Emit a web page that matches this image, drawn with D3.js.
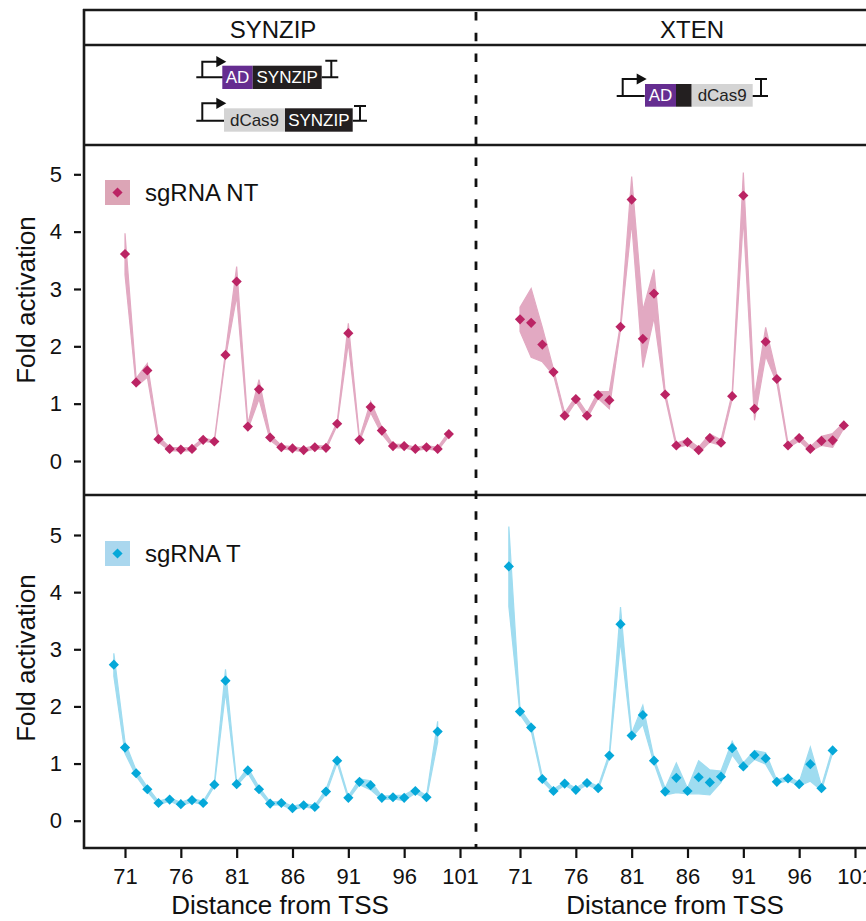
<!DOCTYPE html>
<html>
<head>
<meta charset="utf-8">
<script src="https://cdn.jsdelivr.net/npm/d3@7"></script>
<style>
  body { margin: 0; background: #fff; }
  text { font-family: "Liberation Sans", Arial, Helvetica, sans-serif; fill: #111; }
</style>
</head>
<body>
<script>
// distance from TSS for each sgRNA set
const distNT = [71, 72, 73, 74, 75, 76, 77, 78, 79, 80, 81, 82, 83, 84, 85,
    86, 87, 88, 89, 90, 91, 92, 93, 94, 95, 96, 97, 98, 99, 100];
const distT = [70, 71, 72, 73, 74, 75, 76, 77, 78, 79, 80, 81, 82, 83, 84,
    85, 86, 87, 88, 89, 90, 91, 92, 93, 94, 95, 96, 97, 98, 99];

// fold activation (mean) and spread
const synzipNT = [3.61, 1.37, 1.58, 0.38, 0.21, 0.20, 0.21, 0.37, 0.34, 1.85, 3.13, 0.60, 1.25, 0.41, 0.24,
    0.22, 0.19, 0.24, 0.23, 0.65, 2.23, 0.37, 0.94, 0.53, 0.26, 0.26, 0.21, 0.24, 0.21, 0.47];
const synzipNTerr = [0.36, 0.07, 0.12, 0.05, 0.03, 0.03, 0.03, 0.03, 0.02, 0.05, 0.26, 0.05, 0.17, 0.05, 0.03,
    0.03, 0.03, 0.03, 0.03, 0.03, 0.17, 0.03, 0.10, 0.06, 0.03, 0.03, 0.03, 0.03, 0.03, 0.04];

const xtenNT = [2.47, 2.41, 2.03, 1.55, 0.79, 1.08, 0.79, 1.15, 1.06, 2.34, 4.56, 2.13, 2.92, 1.16, 0.27,
    0.33, 0.19, 0.40, 0.32, 1.13, 4.63, 0.91, 2.08, 1.43, 0.27, 0.40, 0.21, 0.35, 0.36, 0.62];
const xtenNTerr = [0.21, 0.60, 0.30, 0.05, 0.05, 0.05, 0.05, 0.06, 0.15, 0.05, 0.40, 0.50, 0.42, 0.05, 0.04,
    0.05, 0.05, 0.07, 0.05, 0.05, 0.40, 0.20, 0.25, 0.07, 0.04, 0.05, 0.04, 0.08, 0.12, 0.05];

const synzipT = [2.73, 1.28, 0.83, 0.55, 0.31, 0.37, 0.29, 0.36, 0.31, 0.63, 2.45, 0.64, 0.88, 0.55, 0.30,
    0.31, 0.22, 0.27, 0.24, 0.51, 1.05, 0.40, 0.68, 0.62, 0.40, 0.41, 0.40, 0.52, 0.41, 1.56];
const synzipTerr = [0.20, 0.10, 0.05, 0.04, 0.03, 0.03, 0.03, 0.03, 0.03, 0.03, 0.20, 0.03, 0.05, 0.04, 0.03,
    0.03, 0.03, 0.03, 0.03, 0.04, 0.04, 0.03, 0.05, 0.08, 0.03, 0.03, 0.05, 0.04, 0.03, 0.18];

const xtenT = [4.45, 1.91, 1.63, 0.73, 0.52, 0.65, 0.54, 0.66, 0.57, 1.14, 3.44, 1.49, 1.85, 1.05, 0.51,
    0.75, 0.52, 0.76, 0.67, 0.77, 1.27, 0.95, 1.15, 1.09, 0.68, 0.74, 0.64, 0.99, 0.57, 1.23];
const xtenTerr = [0.70, 0.05, 0.06, 0.04, 0.03, 0.03, 0.03, 0.03, 0.03, 0.04, 0.30, 0.04, 0.17, 0.04, 0.06,
    0.26, 0.05, 0.29, 0.22, 0.10, 0.12, 0.06, 0.08, 0.10, 0.03, 0.04, 0.03, 0.30, 0.04, 0.04];

const xTicks = [71, 76, 81, 86, 91, 96, 101];
const yTicks = [0, 1, 2, 3, 4, 5];
const columns = ['SYNZIP', 'XTEN'];
const legendLabels = ['sgRNA NT', 'sgRNA T'];

const pink = {band: '#e2a9c2', mark: '#bb2464', key: '#dca5b6'};
const blue = {band: '#9fdcf0', mark: '#05a8d9', key: '#aad7ee'};

const svg = d3.select('body').append('svg')
    .attr('width', 866)
    .attr('height', 921);

// scales: one x per column, one y per row
const colX0 = [83, 478];
const xScales = colX0.map(x0 => d3.scaleLinear().domain([71, 101]).range([x0 + 42, x0 + 377]));
const yScales = [
    d3.scaleLinear().domain([0, 5]).range([461, 174.3]),
    d3.scaleLinear().domain([0, 5]).range([820.7, 535])
];

const panels = [
    {col: 0, row: 0, dist: distNT, val: synzipNT, err: synzipNTerr, c: pink},
    {col: 1, row: 0, dist: distNT, val: xtenNT, err: xtenNTerr, c: pink},
    {col: 0, row: 1, dist: distT, val: synzipT, err: synzipTerr, c: blue},
    {col: 1, row: 1, dist: distT, val: xtenT, err: xtenTerr, c: blue}
];

const diamond = d3.symbol().type(d3.symbolSquare).size(52);

panels.forEach(p => {
    let x = xScales[p.col], y = yScales[p.row];
    let g = svg.append('g');
    let pts = p.val.map((v, i) => ({d: p.dist[i], v: v, e: p.err[i]}));

    g.append('path')
        .datum(pts)
        .attr('fill', p.c.band)
        .attr('stroke', p.c.band)
        .attr('stroke-width', 1.2)
        .attr('d', d3.area()
            .x(d => x(d.d))
            .y0(d => y(d.v - d.e))
            .y1(d => y(d.v + d.e)));

    g.selectAll('path.pt')
        .data(pts)
        .enter().append('path')
        .attr('class', 'pt')
        .attr('d', diamond)
        .attr('fill', p.c.mark)
        .attr('transform', d => `translate(${x(d.d)},${y(d.v)}) rotate(45)`);
});

// y axes (left column only)
yScales.forEach((y, r) => {
    let ax = svg.append('g')
        .attr('transform', 'translate(81,0)')
        .call(d3.axisLeft(y).tickValues(yTicks).tickFormat(d3.format('d')).tickSize(7).tickPadding(12));
    ax.select('.domain').remove();
    ax.selectAll('line').attr('stroke', '#111').attr('stroke-width', 2.2);
    ax.selectAll('text').style('font-size', '22px').attr('fill', '#111');

    svg.append('text')
        .attr('transform', `translate(35,${r === 0 ? 300 : 658}) rotate(-90)`)
        .attr('text-anchor', 'middle')
        .style('font-size', '26px')
        .text('Fold activation');
});

// x axes
xScales.forEach((x, c) => {
    let ax = svg.append('g')
        .attr('transform', 'translate(0,848)')
        .call(d3.axisBottom(x).tickValues(xTicks).tickSize(10).tickPadding(10));
    ax.select('.domain').remove();
    ax.selectAll('line').attr('stroke', '#111').attr('stroke-width', 2.2);
    ax.selectAll('text').style('font-size', '22px').attr('fill', '#111');

    svg.append('text')
        .attr('x', colX0[c] + 197)
        .attr('y', 914)
        .attr('text-anchor', 'middle')
        .style('font-size', '26px')
        .text('Distance from TSS');
});

// legends
legendLabels.forEach((lab, r) => {
    let c = r === 0 ? pink : blue;
    let top = r === 0 ? 180 : 541;
    svg.append('rect')
        .attr('x', 105).attr('y', top)
        .attr('width', 25).attr('height', 25)
        .attr('fill', c.key);
    svg.append('path')
        .attr('d', diamond)
        .attr('fill', c.mark)
        .attr('transform', `translate(117.5,${top + 12.5}) rotate(45)`);
    svg.append('text')
        .attr('x', 145)
        .attr('y', top + 20.5)
        .style('font-size', '24px')
        .text(lab);
});

// frame lines
let frame = svg.append('g').attr('stroke', '#1a1a1a').attr('stroke-width', 2.6);
[10, 45, 145, 495].forEach(yy => {
    frame.append('line').attr('x1', 83).attr('x2', 866).attr('y1', yy).attr('y2', yy);
});
frame.append('line').attr('x1', 83).attr('x2', 866).attr('y1', 848).attr('y2', 848);
frame.append('line').attr('x1', 84).attr('x2', 84).attr('y1', 9).attr('y2', 849);

svg.append('line')
    .attr('x1', 476).attr('x2', 476)
    .attr('y1', 12).attr('y2', 848)
    .attr('stroke', '#111')
    .attr('stroke-width', 2.8)
    .attr('stroke-dasharray', '8.5,12.3');

// column headers
[273, 692].forEach((cx, i) => {
    svg.append('text')
        .attr('x', cx).attr('y', 38)
        .attr('text-anchor', 'middle')
        .style('font-size', '24px')
        .text(columns[i]);
});

// construct diagrams
function promoter(g, x, y, h) {
    g.append('path')
        .attr('d', `M${x - 6},${y} H${x + 22} M${x},${y} V${y - h} H${x + 15}`)
        .attr('fill', 'none').attr('stroke', '#111').attr('stroke-width', 2);
    g.append('path')
        .attr('d', `M${x + 14},${y - h - 5.6} L${x + 24},${y - h} L${x + 14},${y - h + 5.6}Z`)
        .attr('fill', '#111');
}

function terminator(g, xStart, xt, y, h) {
    g.append('path')
        .attr('d', `M${xStart},${y} H${xt + 7} M${xt},${y} V${y - h} M${xt - 6},${y - h} H${xt + 6}`)
        .attr('fill', 'none').attr('stroke', '#111').attr('stroke-width', 2);
}

function box(g, x, y, w, h, fill, label, tcol) {
    g.append('rect').attr('x', x).attr('y', y).attr('width', w).attr('height', h).attr('fill', fill);
    if (label) {
        g.append('text')
            .attr('x', x + w / 2).attr('y', y + h / 2 + 6)
            .attr('text-anchor', 'middle')
            .style('font-size', '17px')
            .style('fill', tcol)
            .text(label);
    }
}

let dg = svg.append('g');
promoter(dg, 202.3, 77.3, 15.6);
box(dg, 222.3, 65.7, 30.4, 23.3, '#652d90', 'AD', '#fff');
box(dg, 252.7, 65.7, 69, 23.3, '#231f20', 'SYNZIP', '#fff');
terminator(dg, 321.7, 331.3, 77.3, 16.6);

promoter(dg, 202.3, 120.7, 17.4);
box(dg, 224, 108.3, 61, 23.4, '#d4d4d4', 'dCas9', '#222');
box(dg, 285, 108.3, 67.7, 23.4, '#231f20', 'SYNZIP', '#fff');
terminator(dg, 352.7, 360, 120.7, 14.7);

promoter(dg, 622.7, 96, 17);
box(dg, 645, 84, 31, 22.7, '#652d90', 'AD', '#fff');
box(dg, 676, 84, 15.7, 22.7, '#231f20', null, null);
box(dg, 691.7, 84, 61, 22.7, '#d4d4d4', 'dCas9', '#222');
terminator(dg, 752.7, 761, 96, 17);
</script>
</body>
</html>
